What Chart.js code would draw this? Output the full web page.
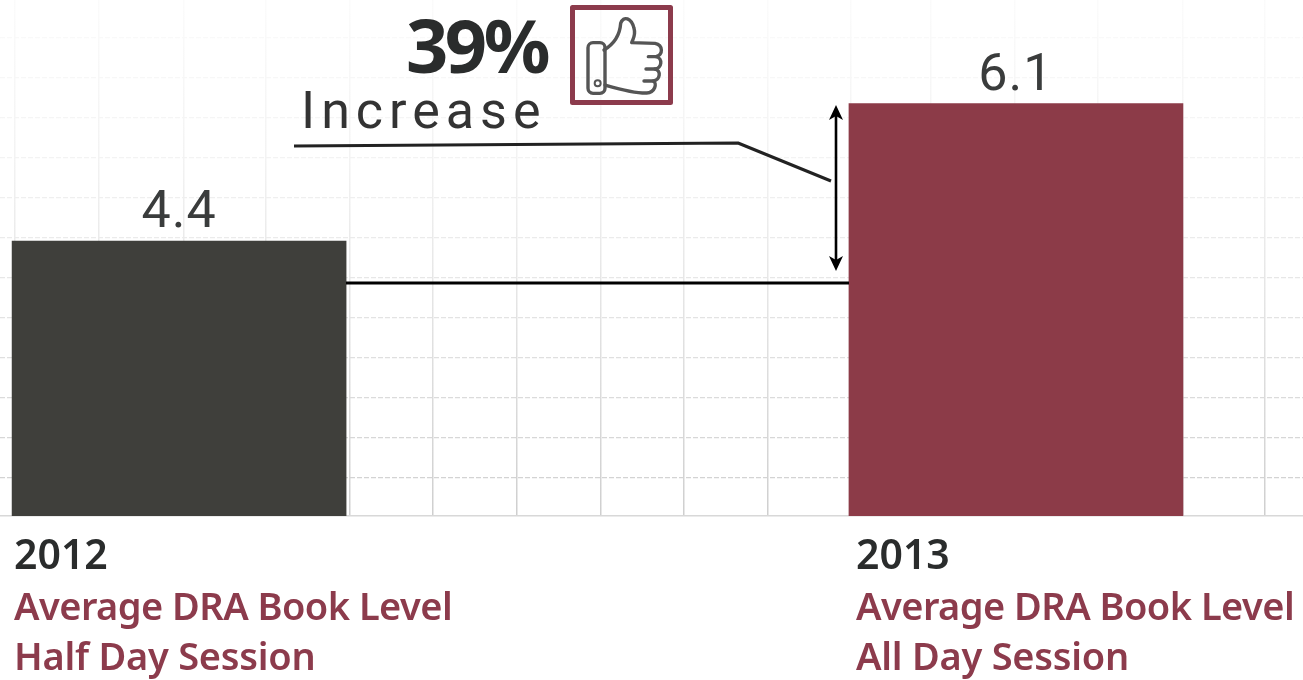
<!DOCTYPE html>
<html><head><meta charset="utf-8">
<style>html,body{margin:0;padding:0;background:#fff;overflow:hidden}canvas{display:block}</style>
<script src="https://cdn.jsdelivr.net/npm/chart.js@4"></script>
</head><body>
<canvas id="c" width="1303" height="680"></canvas>
<script>
const categories = [2012, 2013];
const values = [4.4, 6.1];
const valueLabels = ["4.4", "6.1"];
const subtitleLines = [["Average DRA Book Level", "Half Day Session"], ["Average DRA Book Level", "All Day Session"]];
const barColors = ["#3f3f3b", "#8c3b48"];
const yGrid = [1.47, 1.965, 2.46, 2.955, 3.45, 3.945, 4.44, 4.935, 5.43, 5.925, 6.42, 6.915];
const xGrid = [2011.804, 2011.904, 2012.005, 2012.104, 2012.204, 2012.3035, 2012.404, 2012.504, 2012.603, 2012.704, 2012.802, 2012.898, 2012.998, 2013.098, 2013.1995, 2013.2975];
const headline = "39%";
const headlineSub = "Increase";

const RED = "#8c3b4c", DARK = "#2a2c2c";

function text(ctx, str, x, y, font, color, align, spacing) {
  ctx.font = font; ctx.fillStyle = color; ctx.textAlign = align || "left";
  ctx.textBaseline = "alphabetic"; ctx.letterSpacing = (spacing || 0) + "px";
  ctx.fillText(str, x, y); ctx.letterSpacing = "0px";
}
function poly(ctx, pts, w, color) {
  ctx.beginPath(); pts.forEach((p, i) => i ? ctx.lineTo(p[0], p[1]) : ctx.moveTo(p[0], p[1]));
  ctx.lineWidth = w; ctx.strokeStyle = color; ctx.lineJoin = "round"; ctx.stroke();
}
function arrowHead(ctx, x, tip, dir) {
  ctx.beginPath(); ctx.moveTo(x, tip); ctx.lineTo(x - 7, tip + dir * 15); ctx.lineTo(x, tip + dir * 11);
  ctx.lineTo(x + 7, tip + dir * 15); ctx.closePath(); ctx.fillStyle = "#000"; ctx.fill();
}
function thumb(ctx) {
  const X = v => 280 + v / 3, Y = v => v / 3;
  ctx.save(); ctx.fillStyle = "#fff"; ctx.strokeStyle = RED; ctx.lineWidth = 5;
  ctx.strokeRect(572.5, 7.5, 98, 95);
  ctx.strokeStyle = "#555"; ctx.lineWidth = 3.4; ctx.lineJoin = "round"; ctx.lineCap = "round";
  ctx.beginPath();
  ctx.moveTo(X(972), Y(150)); ctx.bezierCurveTo(X(1005), Y(130), X(1020), Y(100), X(1022), Y(70));
  ctx.bezierCurveTo(X(1030), Y(45), X(1055), Y(55), X(1062), Y(85));
  ctx.bezierCurveTo(X(1068), Y(105), X(1060), Y(115), X(1055), Y(128));
  ctx.lineTo(X(1125), Y(130)); ctx.bezierCurveTo(X(1150), Y(135), X(1150), Y(165), X(1128), Y(170));
  ctx.bezierCurveTo(X(1150), Y(175), X(1145), Y(205), X(1125), Y(207));
  ctx.bezierCurveTo(X(1145), Y(212), X(1140), Y(240), X(1120), Y(243));
  ctx.bezierCurveTo(X(1132), Y(250), X(1125), Y(278), X(1100), Y(279));
  ctx.bezierCurveTo(X(1060), Y(280), X(1010), Y(265), X(975), Y(255));
  ctx.stroke();
  ctx.beginPath();
  ctx.moveTo(X(1128), Y(170)); ctx.lineTo(X(1105), Y(170));
  ctx.moveTo(X(1125), Y(207)); ctx.lineTo(X(1098), Y(207));
  ctx.moveTo(X(1120), Y(243)); ctx.lineTo(X(1092), Y(243));
  ctx.stroke();
  ctx.beginPath(); ctx.roundRect(X(924), Y(128), X(975) - X(924), Y(280) - Y(128), 5); ctx.stroke();
  ctx.lineWidth = 2; ctx.beginPath(); ctx.arc(X(953), Y(250), 3, 0, 7); ctx.stroke();
  ctx.restore();
}

const annotations = {
  id: "annotations",
  afterDatasetsDraw(chart) {
    const ctx = chart.ctx, bars = chart.getDatasetMeta(0).data;
    ctx.save();
    bars.forEach((b, i) => {
      text(ctx, valueLabels[i], b.x, b.y - 14, "400 52px Roboto", "#3a3c3c", "center", 1);
    });
    const lefts = [14, 856];
    categories.forEach((c, i) => {
      text(ctx, String(c), lefts[i], 569, "600 41px 'Noto Sans'", DARK);
      text(ctx, subtitleLines[i][0], lefts[i], 620, "600 38px 'Noto Sans'", RED, "left", -0.55);
      text(ctx, subtitleLines[i][1], lefts[i], 670, "600 38px 'Noto Sans'", RED, "left", -0.25);
    });
    text(ctx, headline, 406, 73, "700 74px 'Noto Sans'", DARK, "left", -3.5);
    text(ctx, headlineSub, 301, 128, "400 52px Roboto", "#333", "left", 6);
    poly(ctx, [[294, 146], [738, 143], [831, 181]], 3, "#222");
    poly(ctx, [[346, 283], [849, 283]], 3, "#000");
    poly(ctx, [[836, 110], [836, 266]], 2.6, "#000");
    arrowHead(ctx, 836, 105, 1); arrowHead(ctx, 836, 271, -1);
    thumb(ctx);
    ctx.restore();
  }
};

const canvas = document.getElementById("c");
const fade = canvas.getContext("2d").createLinearGradient(0, 0, 0, 516);
fade.addColorStop(0, "#fbfbfb");
fade.addColorStop(0.3, "#f3f3f3");
fade.addColorStop(1, "#cfcfcf");

new Chart(canvas, {
  type: "bar",
  data: { datasets: [{
    data: categories.map((c, i) => ({ x: c, y: values[i] })),
    backgroundColor: barColors, barThickness: 334, borderWidth: 0
  }] },
  options: {
    responsive: false, animation: false, devicePixelRatio: 1,
    layout: { padding: { left: 0, right: 0, top: 0, bottom: 164 } },
    plugins: { legend: { display: false }, tooltip: { enabled: false } },
    scales: {
      x: {
        type: "linear", offset: false, min: 2011.786, max: 2013.343,
        afterBuildTicks(s) { s.ticks = xGrid.map(v => ({ value: v })); },
        ticks: { display: false },
        grid: { color: () => fade, lineWidth: 1.5, offset: false, drawTicks: false },
        border: { display: true, color: "#d8d8d8", width: 1.5 }
      },
      y: {
        min: 1, max: 7.38,
        afterBuildTicks(s) { s.ticks = yGrid.map(v => ({ value: v })); },
        ticks: { display: false },
        grid: { color: () => fade, lineWidth: 1.2, drawTicks: false },
        border: { display: false, dash: [5, 2] }
      }
    }
  },
  plugins: [annotations]
});
</script>
</body></html>
